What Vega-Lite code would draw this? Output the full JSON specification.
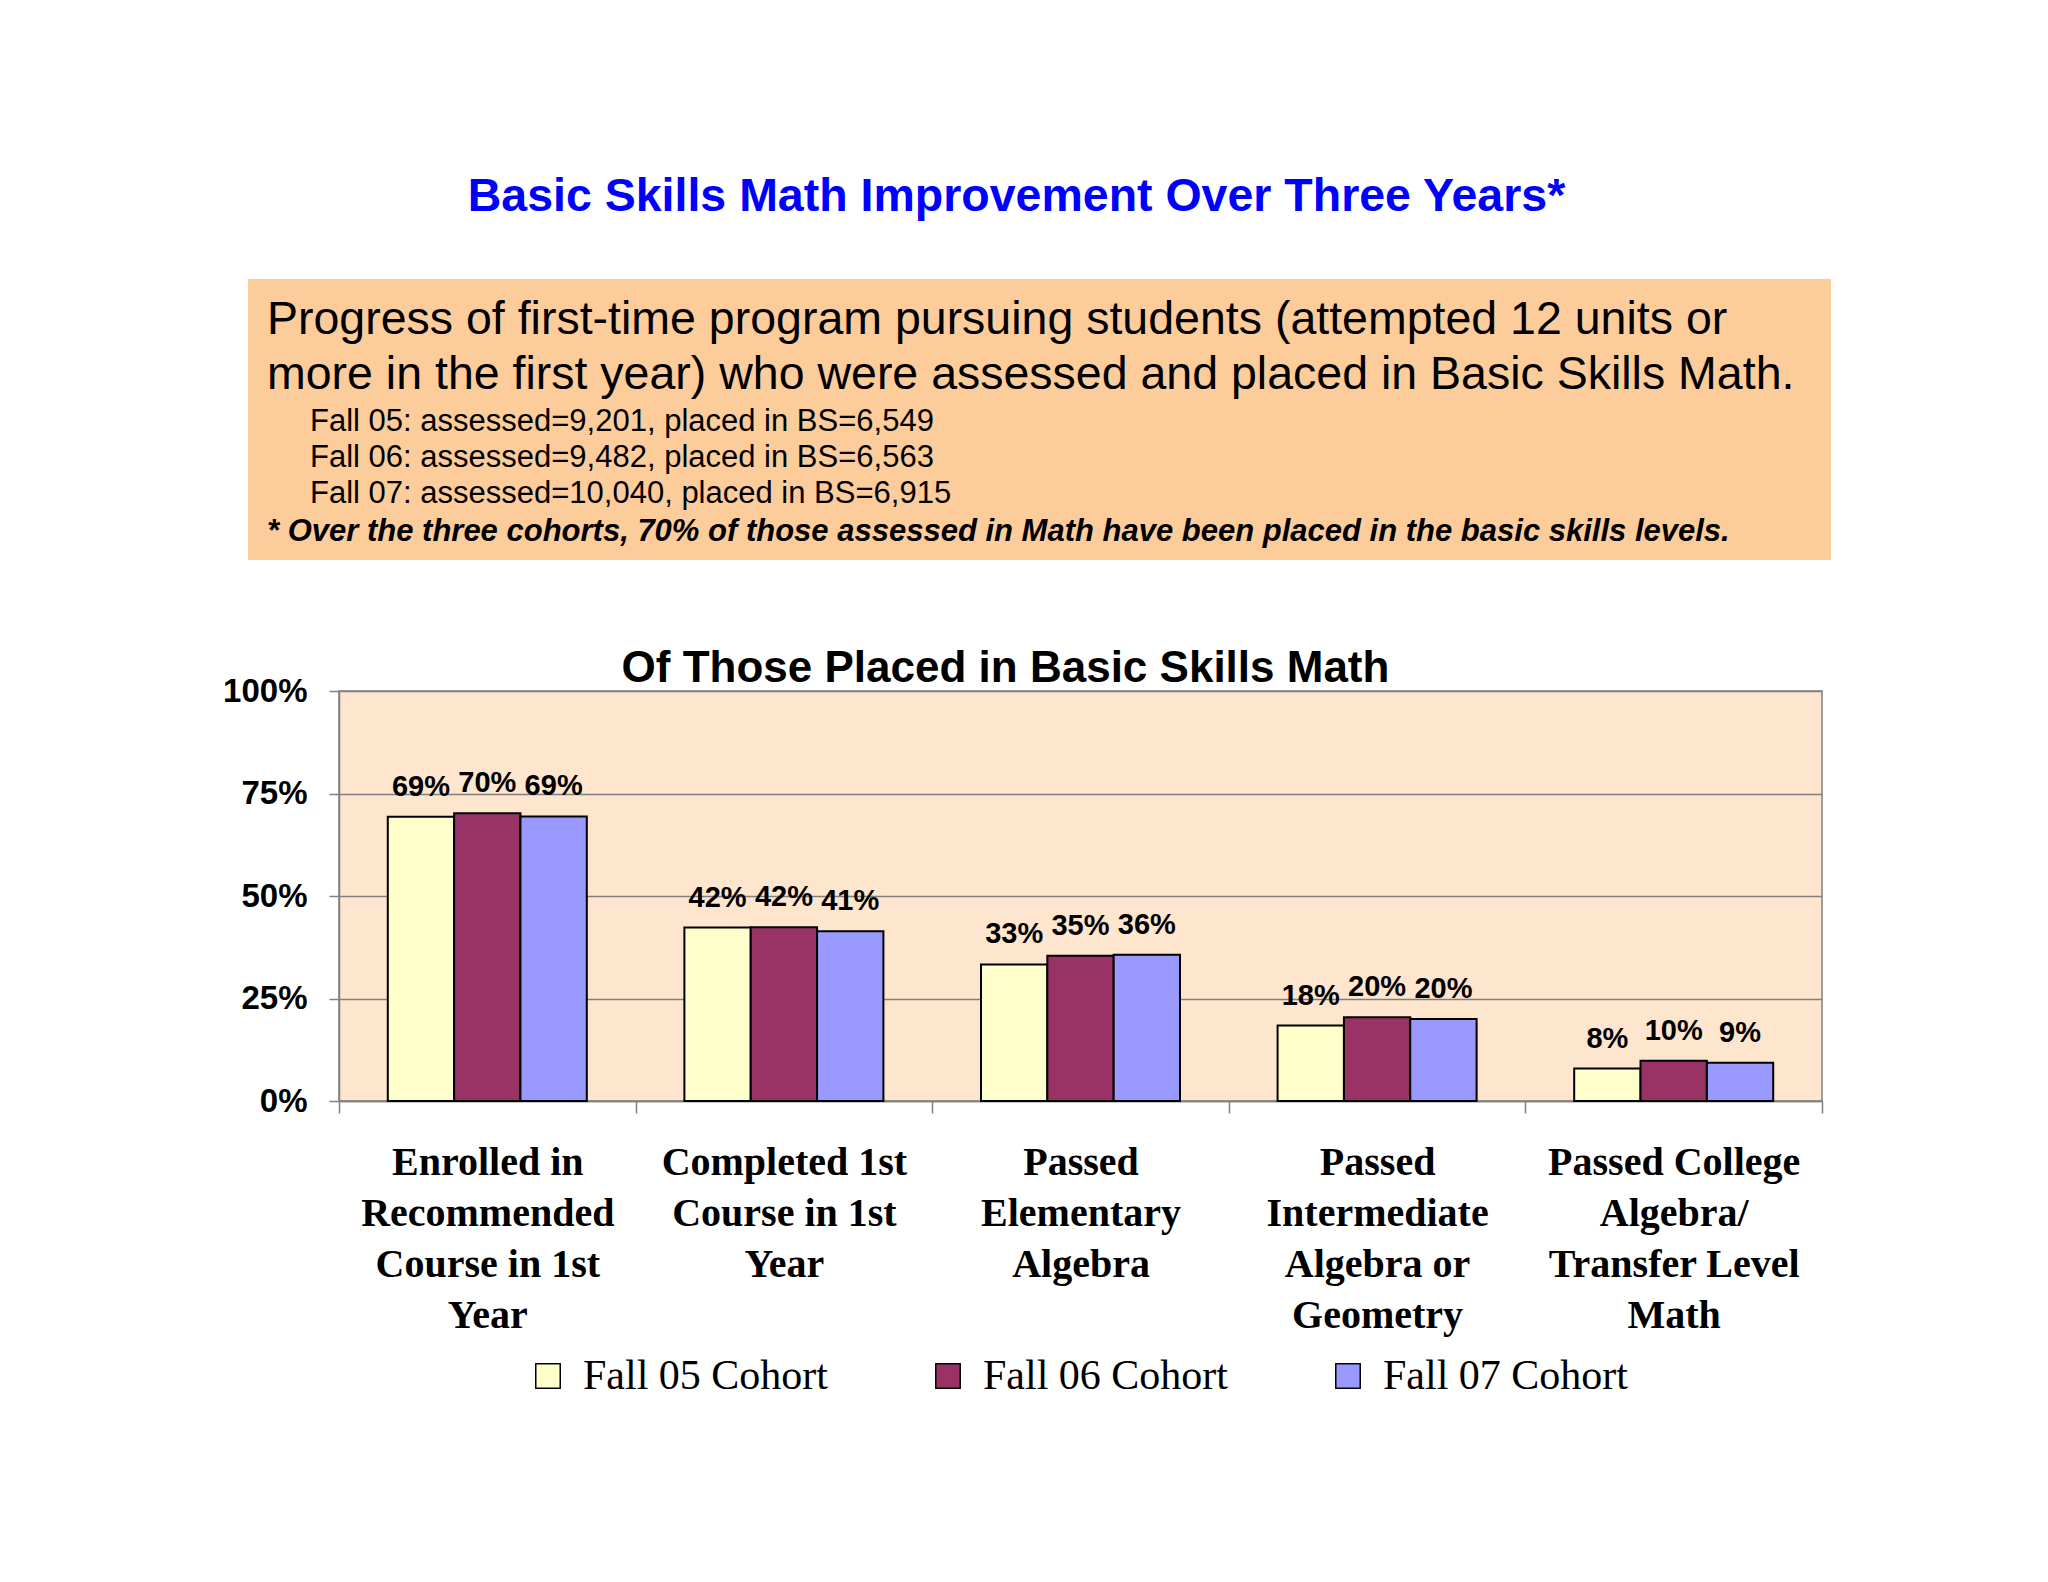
{
  "$schema": "https://vega.github.io/schema/vega-lite/v6.json",
  "background": "white",
  "padding": {"left": 220, "top": 173, "right": 10, "bottom": 10},
  "title": {
    "text": "Basic Skills Math Improvement Over Three Years*",
    "font": "Liberation Sans",
    "fontSize": 46.5,
    "fontWeight": "bold",
    "color": "#0000FF",
    "anchor": "middle",
    "offset": 59,
    "dx": -9
  },
  "spacing": 86,
  "vconcat": [
    {
      "spacing": 27,
      "hconcat": [
        {"width": 1, "height": 1, "view": {"stroke": null}, "data": {"values": []}, "mark": "point"},
        {
          "width": 1583,
          "height": 281,
          "view": {"fill": "#FDCC9B", "stroke": null},
          "data": {
            "values": [
              {"line": 1, "kind": "lead", "text": "Progress of first-time program pursuing students (attempted 12 units or"},
              {"line": 2, "kind": "lead", "text": "more in the first year) who were assessed and placed in Basic Skills Math."},
              {"line": 3, "kind": "detail", "text": "Fall 05: assessed=9,201, placed in BS=6,549"},
              {"line": 4, "kind": "detail", "text": "Fall 06: assessed=9,482, placed in BS=6,563"},
              {"line": 5, "kind": "detail", "text": "Fall 07: assessed=10,040, placed in BS=6,915"},
              {"line": 6, "kind": "note", "text": "* Over the three cohorts, 70% of those assessed in Math have been placed in the basic skills levels."}
            ]
          },
          "layer": [
            {
              "transform": [{"filter": "datum.kind === 'lead'"}],
              "mark": {"type": "text", "align": "left", "baseline": "alphabetic", "x": 19, "font": "Liberation Sans", "fontSize": 46.5, "color": "black"},
              "encoding": {
                "y": {"field": "line", "type": "ordinal", "scale": {"type": "point", "domain": [1, 2], "range": [55, 110], "padding": 0}, "axis": null},
                "text": {"field": "text"}
              }
            },
            {
              "transform": [{"filter": "datum.kind === 'detail'"}],
              "mark": {"type": "text", "align": "left", "baseline": "alphabetic", "x": 62, "font": "Liberation Sans", "fontSize": 31, "color": "black"},
              "encoding": {
                "y": {"field": "line", "type": "ordinal", "scale": {"type": "point", "domain": [3, 4, 5], "range": [152, 224], "padding": 0}, "axis": null},
                "text": {"field": "text"}
              }
            },
            {
              "transform": [{"filter": "datum.kind === 'note'"}],
              "mark": {"type": "text", "align": "left", "baseline": "alphabetic", "x": 19, "font": "Liberation Sans", "fontSize": 31, "fontWeight": "bold", "fontStyle": "italic", "color": "black"},
              "encoding": {
                "y": {"field": "line", "type": "ordinal", "scale": {"type": "point", "domain": [6], "range": [262, 262], "padding": 0}, "axis": null},
                "text": {"field": "text"}
              }
            }
          ],
          "resolve": {"scale": {"y": "independent"}, "axis": {"y": "independent"}}
        }
      ]
    },
    {
      "spacing": 0,
      "hconcat": [
        {"width": 1, "height": 1, "view": {"stroke": null}, "data": {"values": []}, "mark": "point"},
        {
          "width": 1483,
          "height": 410,
          "title": {
            "text": "Of Those Placed in Basic Skills Math",
            "font": "Liberation Sans",
            "fontSize": 44,
            "fontWeight": "bold",
            "color": "black",
            "anchor": "middle",
            "frame": "group",
            "dx": -75,
            "offset": -16
          },
          "view": {"fill": "#FEE6CE", "stroke": "#808080", "strokeWidth": 1.5},
          "data": {
            "values": [
              {"category": "Enrolled in\nRecommended\nCourse in 1st\nYear", "cohort": "Fall 05 Cohort", "value": 0.693},
              {"category": "Enrolled in\nRecommended\nCourse in 1st\nYear", "cohort": "Fall 06 Cohort", "value": 0.702},
              {"category": "Enrolled in\nRecommended\nCourse in 1st\nYear", "cohort": "Fall 07 Cohort", "value": 0.694},
              {"category": "Completed 1st\nCourse in 1st\nYear", "cohort": "Fall 05 Cohort", "value": 0.423},
              {"category": "Completed 1st\nCourse in 1st\nYear", "cohort": "Fall 06 Cohort", "value": 0.424},
              {"category": "Completed 1st\nCourse in 1st\nYear", "cohort": "Fall 07 Cohort", "value": 0.414},
              {"category": "Passed\nElementary\nAlgebra", "cohort": "Fall 05 Cohort", "value": 0.333},
              {"category": "Passed\nElementary\nAlgebra", "cohort": "Fall 06 Cohort", "value": 0.354},
              {"category": "Passed\nElementary\nAlgebra", "cohort": "Fall 07 Cohort", "value": 0.357},
              {"category": "Passed\nIntermediate\nAlgebra or\nGeometry", "cohort": "Fall 05 Cohort", "value": 0.184},
              {"category": "Passed\nIntermediate\nAlgebra or\nGeometry", "cohort": "Fall 06 Cohort", "value": 0.204},
              {"category": "Passed\nIntermediate\nAlgebra or\nGeometry", "cohort": "Fall 07 Cohort", "value": 0.2},
              {"category": "Passed College\nAlgebra/\nTransfer Level\nMath", "cohort": "Fall 05 Cohort", "value": 0.079},
              {"category": "Passed College\nAlgebra/\nTransfer Level\nMath", "cohort": "Fall 06 Cohort", "value": 0.098},
              {"category": "Passed College\nAlgebra/\nTransfer Level\nMath", "cohort": "Fall 07 Cohort", "value": 0.093}
            ]
          },
          "encoding": {
            "x": {
              "field": "category",
              "type": "nominal",
              "sort": null,
              "scale": {"paddingInner": 0, "paddingOuter": 0},
              "axis": {
                "title": null,
                "labelAngle": 0,
                "labelExpr": "split(datum.label, '\\n')",
                "labelFont": "Liberation Serif",
                "labelFontWeight": "bold",
                "labelFontSize": 40,
                "labelLineHeight": 51,
                "labelColor": "black",
                "labelLimit": 400,
                "labelPadding": 29,
                "tickBand": "extent",
                "tickSize": 12,
                "tickColor": "#808080",
                "tickWidth": 1.5,
                "domainColor": "#808080",
                "domainWidth": 1.5,
                "grid": false
              }
            },
            "xOffset": {"field": "cohort", "type": "nominal", "sort": null, "scale": {"paddingInner": 0, "paddingOuter": 0.7355}},
            "y": {
              "field": "value",
              "type": "quantitative",
              "scale": {"domain": [0, 1]},
              "axis": {
                "title": null,
                "values": [0, 0.25, 0.5, 0.75, 1],
                "format": ".0%",
                "labelFont": "Liberation Sans",
                "labelFontWeight": "bold",
                "labelFontSize": 33,
                "labelColor": "black",
                "labelPadding": 22,
                "tickSize": 10,
                "tickColor": "#808080",
                "tickWidth": 1.5,
                "grid": true,
                "gridColor": "#808080",
                "gridWidth": 1.3,
                "domainColor": "#808080",
                "domainWidth": 1.5
              }
            }
          },
          "layer": [
            {
              "mark": {"type": "bar", "stroke": "black", "strokeWidth": 2},
              "encoding": {
                "color": {
                  "field": "cohort",
                  "type": "nominal",
                  "sort": null,
                  "scale": {"domain": ["Fall 05 Cohort", "Fall 06 Cohort", "Fall 07 Cohort"], "range": ["#FFFFCC", "#993366", "#9999FF"]},
                  "legend": {
                    "orient": "none",
                    "legendX": 307,
                    "legendY": 1076,
                    "direction": "horizontal",
                    "title": null,
                    "symbolType": "square",
                    "symbolSize": 600,
                    "symbolStrokeColor": "black",
                    "symbolStrokeWidth": 1.5,
                    "symbolOpacity": 1,
                    "labelFont": "Liberation Serif",
                    "labelFontSize": 42,
                    "labelColor": "black",
                    "labelOffset": 14,
                    "labelLimit": 400,
                    "columnPadding": 98,
                    "padding": 0
                  }
                }
              }
            },
            {
              "mark": {"type": "text", "baseline": "alphabetic", "dy": -21, "font": "Liberation Sans", "fontWeight": "bold", "fontSize": 29, "color": "black"},
              "encoding": {"text": {"field": "value", "format": ".0%"}}
            }
          ]
        }
      ]
    }
  ]
}
